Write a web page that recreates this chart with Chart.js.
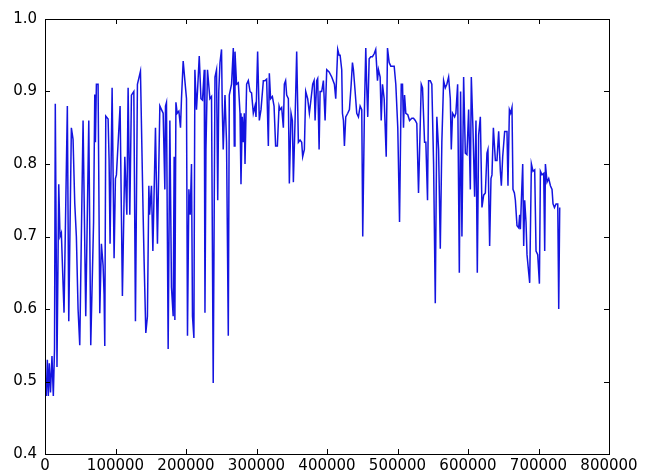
<!DOCTYPE html>
<html>
<head>
<meta charset="utf-8">
<script src="https://cdn.jsdelivr.net/npm/chart.js@4/dist/chart.umd.min.js"></script>
<style>
    html, body { margin: 0; padding: 0; background: #fff; }
    canvas { display: block; }
</style>
</head>
<body>
<canvas id="chart" width="646" height="473"></canvas>
<script>
// values
const xValues = [
    700, 1800, 3300, 4700, 6100, 7800, 9900, 11800, 13500, 14600,
    17000, 19500, 21300, 23200, 27000, 31700, 33700, 37400, 39800, 42200,
    44500, 46900, 49300, 54000, 57800, 62100, 64900, 68900, 70600, 71500,
    72900, 75300, 77700, 80000, 82400, 83800, 84800, 86200, 89500, 90900,
    92300, 95200, 98000, 99900, 101300, 106500, 109800, 113200, 116100, 117900,
    120300, 122600, 126000, 128300, 131100, 135400, 139200, 140600, 143000, 145300,
    147300, 148400, 151000, 153000, 156700, 159500, 162900, 165200, 167600, 170000,
    170900, 172300, 174700, 177100, 179400, 181800, 183200, 184200, 185700, 187500,
    189900, 192200, 193600, 196000, 198400, 200700, 202100, 204100, 206000, 207800,
    209200, 211200, 212600, 214900, 216300, 218800, 221200, 223400, 225900, 226900,
    228300, 230500, 233900, 236200, 238600, 241100, 243300, 245000, 246500, 248200,
    250400, 251400, 252800, 255300, 257500, 260000, 261400, 264600, 267100, 268500,
    269500, 271700, 274200, 276600, 278000, 279800, 281300, 282700, 283700, 286000,
    288400, 290800, 293000, 295500, 297900, 299300, 301600, 304000, 306400, 309700,
    312100, 314400, 316800, 318200, 320000, 322500, 324900, 327100, 329600, 332000,
    333400, 335700, 338100, 339500, 341300, 342800, 345200, 346600, 349000, 350900,
    352300, 354700, 357000, 359400, 361800, 364100, 365500, 367900, 369800, 372600,
    375000, 377400, 379700, 381700, 383100, 385400, 386800, 388800, 390200, 392500,
    394900, 397300, 399600, 403000, 406700, 410500, 412400, 415200, 417200, 418600,
    420900, 421900, 423300, 424700, 426600, 429400, 431800, 434300, 436100, 437500,
    439900, 442200, 444600, 447000, 449300, 450700, 453100, 455000, 456400, 457800,
    459800, 462100, 464500, 466900, 469100, 471600, 473000, 475400, 476900, 478700,
    481100, 484000, 485800, 488200, 490500, 492900, 495300, 497600, 500400, 502900,
    505300, 507100, 508500, 510000, 511800, 514600, 517100, 520300, 522700, 525200,
    527400, 529800, 532300, 533700, 535500, 538400, 540200, 542600, 544100, 546500,
    548700, 551200, 553600, 555800, 558300, 560700, 562900, 565400, 567800, 570000,
    572500, 574900, 576300, 578100, 581000, 582800, 585300, 587700, 589500, 591400,
    593800, 596200, 598500, 600900, 603300, 604700, 607000, 609400, 611300, 613200,
    615100, 617500, 619800, 622200, 624600, 626900, 628300, 630700, 632600, 634000,
    636000, 638800, 641100, 643500, 645900, 647300, 649200, 652000, 655300, 656700,
    658700, 660500, 662400, 663800, 665800, 667200, 669500, 671900, 673300, 674300,
    675700, 677600, 679000, 680400, 682300, 683700, 686100, 687500, 689900, 692200,
    694600, 696500, 698900, 701300, 702700, 705000, 707400, 708800, 709800, 712100,
    714500, 716900, 719200, 720600, 722600, 724900, 727300, 728700, 730100
];
const yValues = [
    0.49, 0.48, 0.53, 0.48, 0.525, 0.485, 0.535, 0.48, 0.545, 0.883,
    0.52, 0.772, 0.70, 0.705, 0.595, 0.88, 0.583, 0.85, 0.834, 0.746,
    0.70, 0.60, 0.55, 0.86, 0.59, 0.86, 0.55, 0.72, 0.896, 0.83,
    0.91, 0.91, 0.594, 0.69, 0.66, 0.62, 0.549, 0.866, 0.862, 0.806,
    0.69, 0.905, 0.67, 0.78, 0.785, 0.88, 0.618, 0.81, 0.73, 0.905,
    0.73, 0.895, 0.90, 0.583, 0.91, 0.928, 0.73, 0.665, 0.567, 0.59,
    0.77, 0.73, 0.77, 0.68, 0.85, 0.69, 0.88, 0.875, 0.87, 0.765,
    0.88, 0.885, 0.545, 0.86, 0.63, 0.59, 0.81, 0.585, 0.885, 0.87,
    0.873, 0.85, 0.89, 0.942, 0.915, 0.89, 0.563, 0.765, 0.73, 0.80,
    0.59, 0.56, 0.93, 0.875, 0.90, 0.949, 0.89, 0.888, 0.93, 0.595,
    0.82, 0.93, 0.89, 0.893, 0.498, 0.92, 0.93, 0.75, 0.90, 0.94,
    0.958, 0.88, 0.82, 0.895, 0.83, 0.563, 0.895, 0.91, 0.96, 0.825,
    0.955, 0.91, 0.912, 0.87, 0.772, 0.865, 0.83, 0.87, 0.80, 0.91,
    0.915, 0.90, 0.898, 0.87, 0.88, 0.865, 0.955, 0.86, 0.875, 0.915,
    0.915, 0.917, 0.825, 0.925, 0.89, 0.893, 0.88, 0.825, 0.825, 0.88,
    0.875, 0.878, 0.85, 0.91, 0.915, 0.895, 0.89, 0.773, 0.87, 0.86,
    0.775, 0.86, 0.955, 0.83, 0.833, 0.83, 0.81, 0.82, 0.90, 0.89,
    0.87, 0.89, 0.91, 0.915, 0.86, 0.915, 0.918, 0.82, 0.90, 0.90,
    0.915, 0.86, 0.93, 0.927, 0.92, 0.91, 0.89, 0.958, 0.95, 0.95,
    0.93, 0.87, 0.86, 0.825, 0.865, 0.87, 0.875, 0.91, 0.94, 0.93,
    0.90, 0.87, 0.865, 0.88, 0.875, 0.70, 0.875, 0.96, 0.905, 0.865,
    0.945, 0.948, 0.948, 0.952, 0.958, 0.915, 0.93, 0.92, 0.86, 0.91,
    0.89, 0.81, 0.96, 0.94, 0.935, 0.935, 0.935, 0.91, 0.85, 0.72,
    0.91, 0.91, 0.85, 0.895, 0.87, 0.868, 0.86, 0.863, 0.863, 0.86,
    0.856, 0.76, 0.856, 0.91, 0.905, 0.83, 0.83, 0.75, 0.915, 0.915,
    0.91, 0.80, 0.608, 0.865, 0.82, 0.683, 0.83, 0.915, 0.905, 0.91,
    0.92, 0.89, 0.82, 0.87, 0.865, 0.87, 0.91, 0.65, 0.90, 0.70,
    0.92, 0.815, 0.813, 0.875, 0.765, 0.92, 0.85, 0.755, 0.86, 0.65,
    0.84, 0.865, 0.74, 0.757, 0.76, 0.815, 0.82, 0.687, 0.78, 0.785,
    0.85, 0.805, 0.805, 0.845, 0.79, 0.77, 0.81, 0.845, 0.845, 0.77,
    0.875, 0.87, 0.878, 0.765, 0.76, 0.75, 0.715, 0.712, 0.73, 0.71,
    0.75, 0.80, 0.687, 0.75, 0.72, 0.675, 0.65, 0.636, 0.80, 0.79,
    0.792, 0.68, 0.675, 0.635, 0.79, 0.785, 0.787, 0.68, 0.80, 0.775,
    0.78, 0.77, 0.765, 0.745, 0.74, 0.745, 0.745, 0.60, 0.74
];
const xTicks = [0, 100000, 200000, 300000, 400000, 500000, 600000, 700000, 800000];
const yTicks = [0.4, 0.5, 0.6, 0.7, 0.8, 0.9, 1.0];

const FONT = { family: 'DejaVu Sans', size: 15 };

// matplotlib style box with inward ticks on all four sides
const framePlugin = {
    id: 'frame',
    afterDraw(chart) {
        const ctx = chart.ctx;
        const a = chart.chartArea;
        const xs = chart.scales.x;
        const ys = chart.scales.y;
        const len = 5;
        ctx.save();
        ctx.strokeStyle = '#000';
        ctx.lineWidth = 1;
        ctx.beginPath();
        xTicks.forEach(v => {
            const px = Math.round(xs.getPixelForValue(v)) + 0.5;
            ctx.moveTo(px, a.bottom);
            ctx.lineTo(px, a.bottom - len);
            ctx.moveTo(px, a.top);
            ctx.lineTo(px, a.top + len);
        });
        yTicks.forEach(v => {
            const py = Math.round(ys.getPixelForValue(v)) + 0.5;
            ctx.moveTo(a.left, py);
            ctx.lineTo(a.left + len, py);
            ctx.moveTo(a.right, py);
            ctx.lineTo(a.right - len, py);
        });
        ctx.stroke();
        ctx.strokeRect(Math.round(a.left) + 0.5, Math.round(a.top) + 0.5,
            Math.round(a.right - a.left), Math.round(a.bottom - a.top));
        ctx.restore();
    }
};

new Chart(document.getElementById('chart').getContext('2d'), {
    type: 'line',
    data: {
        datasets: [{
            data: xValues.map((x, i) => ({ x: x, y: yValues[i] })),
            borderColor: '#1414e0',
            borderWidth: 1.5,
            pointRadius: 0,
            tension: 0,
            fill: false
        }]
    },
    options: {
        responsive: false,
        animation: false,
        layout: {
            padding: { top: 19, right: 37, left: 0, bottom: 0 }
        },
        scales: {
            x: {
                type: 'linear',
                min: 0,
                max: 800000,
                afterFit(scale) { scale.height = 19; },
                afterBuildTicks(scale) { scale.ticks = xTicks.map(v => ({ value: v })); },
                grid: { display: false, drawTicks: false },
                border: { display: false },
                ticks: {
                    padding: 3,
                    color: '#000',
                    font: FONT,
                    maxRotation: 0,
                    autoSkip: false,
                    callback: v => String(v)
                }
            },
            y: {
                min: 0.4,
                max: 1.0,
                afterFit(scale) { scale.width = 45; },
                afterBuildTicks(scale) { scale.ticks = yTicks.map(v => ({ value: v })); },
                grid: { display: false, drawTicks: false },
                border: { display: false },
                ticks: {
                    padding: 8,
                    color: '#000',
                    font: FONT,
                    autoSkip: false,
                    callback: v => v.toFixed(1)
                }
            }
        },
        plugins: {
            legend: { display: false },
            tooltip: { enabled: false }
        }
    },
    plugins: [framePlugin]
});
</script>
</body>
</html>
